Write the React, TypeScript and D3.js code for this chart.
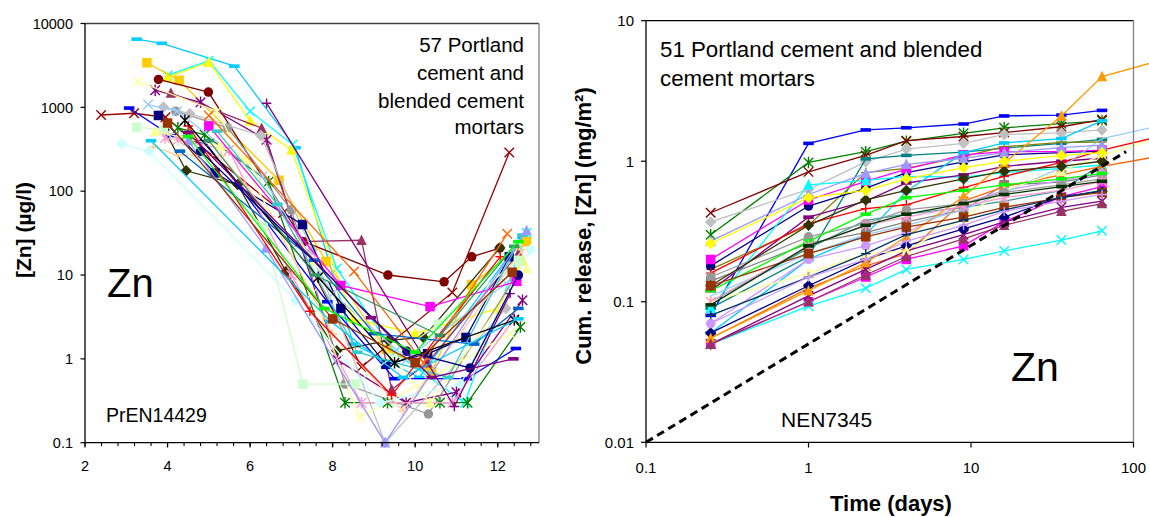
import React from 'react';
import * as d3 from 'd3';

// ---------------- LEFT PANEL DATA (pH vs [Zn] µg/l) ----------------
const leftPH: number[][] = [
  [3.25, 3.86, 5.62, 7.1, 8.5, 10.1, 12.6],
  [4.0, 5.0, 6.0, 7.03, 8.1, 9.5, 11.2, 12.7],
  [4.0, 5.0, 6.0, 7.0, 8.5, 10.0, 12.0, 12.6],
  [3.5, 4.28, 6.7, 7.84, 9.3, 10.4, 11.37, 12.7],
  [3.78, 4.99, 7.3, 9.34, 10.7, 11.37, 12.05],
  [2.39, 3.19, 3.95, 6.8, 8.7, 10.9, 12.28],
  [3.7, 4.8, 6.4, 8.12, 9.78, 11.0, 12.6],
  [4.08, 6.28, 7.2, 8.7, 9.43, 10.3, 12.5],
  [4.2, 5.46, 7.0, 8.3, 10.32, 12.4],
  [3.9, 4.54, 6.26, 7.5, 9.27, 12.2],
  [3.78, 5.15, 7.27, 8.2, 9.29, 10.3, 11.23, 12.28],
  [3.92, 4.45, 5.7, 6.87, 8.1, 9.35, 10.2, 12.05],
  [4.25, 4.9, 6.45, 8.3, 9.33, 10.6, 11.27, 12.55],
  [3.07, 4.08, 4.9, 7.87, 9.5, 11.25, 12.44],
  [3.53, 4.23, 6.3, 8.0, 9.8, 12.2],
  [3.29, 5.2, 7.5, 8.66, 12.3],
  [3.94, 4.25, 5.49, 7.0, 8.7, 10.9, 12.4],
  [3.65, 4.25, 5.3, 6.5, 8.0, 9.7, 12.6],
  [2.89, 3.55, 7.1, 9.15, 11.1, 12.8],
  [3.25, 3.9, 6.32, 7.28, 8.54, 10.56, 12.5],
  [3.7, 5.27, 5.9, 7.5, 10.36, 12.7],
  [5.0, 8.2, 10.36, 12.46],
  [5.2, 6.66, 8.6, 10.8, 12.6],
  [4.5, 6.38, 9.27, 12.7],
  [6.4, 10.95, 12.3],
  [4.5, 7.45, 9.43, 12.06],
  [5.0, 8.52, 10.2, 12.23],
  [4.3, 7.55, 9.0, 11.43, 12.5],
  [4.42, 7.65, 9.5, 12.4],
  [5.0, 7.57, 10.6, 12.4],
  [3.6, 7.95, 9.7, 12.5],
  [4.8, 9.8, 11.33, 12.5],
  [4.5, 8.93, 10.4, 12.38],
  [4.0, 8.0, 10.0, 12.35],
  [4.5, 7.8, 10.0, 12.5],
];
const leftZn: number[][] = [
  [6500, 5800, 3100, 330, 1.5, 0.6, 28],
  [2400, 3600, 900, 360, 12, 1.2, 0.3, 32],
  [2300, 3450, 690, 310, 3, 2, 4, 15],
  [3400, 2100, 135, 14.5, 1.3, 0.7, 7.7, 25],
  [2150, 1520, 25, 10, 8.3, 16.5, 21],
  [810, 850, 760, 55, 0.8, 6.2, 290],
  [1600, 1150, 410, 0.97, 0.3, 0.4, 5],
  [1480, 565, 25, 26, 0.43, 0.9, 18],
  [900, 570, 60, 0.5, 0.22, 9],
  [1010, 840, 460, 20, 0.1, 4],
  [800, 165, 40, 4.0, 0.86, 1.15, 1.8, 16.5],
  [540, 175, 120, 11, 1.25, 1.66, 1.8, 21],
  [570, 470, 130, 0.3, 0.3, 0.3, 0.3, 2.4],
  [980, 460, 390, 4.8, 0.58, 0.58, 1.33],
  [1080, 900, 150, 6, 1.0, 8],
  [2020, 900, 6, 0.2, 2],
  [430, 410, 310, 10, 0.3, 0.3, 3],
  [340, 270, 265, 50, 2, 0.24, 20],
  [365, 300, 5, 0.3, 0.5, 20],
  [580, 540, 38, 0.5, 0.5, 2.6, 15],
  [520, 345, 240, 15, 0.3, 12],
  [600, 7.5, 4.2, 8.4],
  [520, 70, 1.2, 0.6, 30],
  [400, 21, 0.1, 34],
  [1120, 0.27, 6],
  [600, 3.7, 0.37, 16.5],
  [800, 11, 0.9, 31],
  [300, 15, 2, 1.5, 4],
  [700, 9.4, 0.9, 2.9],
  [400, 10, 1.9, 22],
  [400, 2.8, 0.6, 3],
  [300, 1.23, 0.78, 10],
  [500, 3.1, 0.6, 1.0],
  [650, 3, 0.9, 10.8],
  [450, 4, 1.2, 25],
];
const leftColors = [
  '#00CCFF', '#00FFFF', '#FFFF00', '#FFCC00', '#800000', '#990000', '#800080', '#993366',
  '#969696', '#C0C0C0', '#000080', '#333300', '#008000', '#0000FF', '#99CCFF', '#FFFF99',
  '#FF99CC', '#FFCC99', '#CCFFFF', '#CCFFCC', '#FFFF99', '#FF00FF', '#33CCCC', '#9999FF',
  '#800080', '#FF0000', '#FF6600', '#0066CC', '#000000', '#339966', '#00CCFF', '#000080',
  '#800080', '#993300', '#00FF00',
];
const leftMarkers = [
  'dash', 'x', 'triangle', 'square', 'circle', 'x', 'star', 'triangle',
  'circle', 'diamond', 'square', 'diamond', 'star', 'dash', 'x', 'x',
  'star', 'plus', 'diamond', 'square', 'triangle', 'square', 'dash', 'triangle',
  'plus', 'plus', 'x', 'dash', 'star', 'dash', 'dash', 'circle',
  'dash', 'square', 'dash',
];
const leftYTicks = [0.1, 1, 10, 100, 1000, 10000];
const leftXTicks = [2, 4, 6, 8, 10, 12];

// ---------------- RIGHT PANEL DATA (time vs cumulative release mg/m²) ----------------
const rightTimes = [0.25, 1, 2.25, 4, 9, 16, 36, 64];
const rightExtTime = 128;
const rightRelease: number[][] = [
  [0.08, 1.34, 1.67, 1.73, 1.84, 2.1, 2.13, 2.3],
  [0.30, 0.98, 1.17, 1.39, 1.58, 1.73, 1.85, 1.94],
  [0.43, 0.84, 1.10, 1.40, 1.5, 1.6, 1.76, 1.98],
  [0.37, 0.63, 0.99, 1.22, 1.34, 1.55, 1.59, 1.67],
  [0.09, 0.21, 1.04, 1.10, 1.16, 1.24, 1.34, 1.43],
  [0.17, 0.35, 0.83, 0.89, 1.08, 1.27, 1.36, 1.37],
  [0.18, 0.48, 0.64, 0.83, 0.99, 1.11, 1.15, 1.18],
  [0.20, 0.53, 0.72, 0.88, 1.11, 1.17, 1.17, 1.2],
  [0.09, 0.68, 0.73, 0.78, 0.77, 0.83, 0.89, 0.94],
  [0.12, 0.40, 0.52, 0.70, 0.80, 0.92, 1.0, 1.05],
  [0.06, 0.2, 0.3, 0.61, 1.15, 1.35, 1.45, 1.94],
  [0.16, 0.36, 0.46, 0.49, 0.65, 0.78, 0.98, 1.2, 1.45],
  [0.14, 0.26, 0.31, 0.37, 0.45, 0.68, 0.71, 0.80],
  [0.1, 0.24, 0.38, 0.42, 0.47, 0.52, 0.62, 0.95],
  [0.07, 0.2, 0.25, 0.31, 0.50, 0.62, 0.73, 0.82],
  [0.055, 0.125, 0.18, 0.22, 0.52, 0.66, 0.8, 0.92, 1.06],
  [0.05, 0.10, 0.15, 0.2, 0.25, 0.37, 0.56, 0.66],
  [0.05, 0.093, 0.125, 0.17, 0.20, 0.23, 0.275, 0.32],
  [0.05, 0.11, 0.17, 0.23, 0.3, 0.37, 0.47, 0.52],
  [0.06, 0.13, 0.2, 0.25, 0.33, 0.40, 0.56, 0.61],
  [0.055, 0.12, 0.19, 0.29, 0.56, 0.97, 2.1, 4.0, 5.0],
  [0.11, 0.22, 0.3, 0.35, 0.45, 0.6, 0.9, 1.45, 1.73],
  [0.1, 0.16, 0.22, 0.23, 0.4, 0.62, 0.85, 1.1, 1.42],
  [0.15, 0.29, 0.36, 0.45, 0.5, 0.6, 0.68, 0.75],
  [0.12, 0.27, 0.42, 0.55, 0.62, 0.68, 0.75, 0.82],
  [0.13, 0.35, 0.53, 0.62, 0.75, 0.85, 0.92, 1.0],
  [0.1, 0.25, 0.35, 0.40, 0.48, 0.55, 0.62, 0.72],
  [0.27, 0.58, 0.82, 0.95, 1.05, 1.15, 1.25, 1.3],
  [0.26, 0.55, 0.62, 0.75, 0.9, 1.0, 1.1, 1.15],
  [0.05, 0.10, 0.155, 0.21, 0.28, 0.35, 0.44, 0.5],
  [0.13, 0.22, 0.29, 0.34, 0.4, 0.47, 0.55, 0.6],
  [0.095, 0.25, 0.35, 0.42, 0.5, 0.58, 0.66, 0.72],
  [0.08, 0.15, 0.22, 0.3, 0.38, 0.45, 0.55, 0.62],
  [0.07, 0.15, 0.2, 0.27, 0.35, 0.44, 0.52, 0.58],
];
const rightColors = [
  '#0000FF', '#008000', '#800000', '#C0C0C0', '#008080', '#808000', '#000080', '#FF00FF',
  '#00FFFF', '#800080', '#00CCFF', '#FF0000', '#808080', '#339999', '#CC99FF', '#FF6600',
  '#FF00FF', '#00FFFF', '#800080', '#000080', '#FF9900', '#99CCFF', '#FFFF99', '#999999',
  '#00FF00', '#333300', '#FF99CC', '#9999FF', '#FFFF00', '#993366', '#993300', '#003300',
  '#003366', '#CC99FF',
];
const rightMarkers = [
  'dash', 'star', 'x', 'diamond', 'dash', 'plus', 'circle', 'square',
  'triangle', 'dash', 'dash', 'plus', 'square', 'none', 'circle', 'x',
  'square', 'x', 'star', 'diamond', 'triangle', 'none', 'triangle', 'circle',
  'dash', 'diamond', 'star', 'triangle', 'diamond', 'triangle', 'square', 'dash',
  'plus', 'plus',
];
const refLineT = [0.1, 90];
const refLineV = [0.01, 1.17];
const rightYTicks = [0.01, 0.1, 1, 10];
const rightXTicks = [0.1, 1, 10, 100];

// ---------------- SCALES ----------------
const lx = d3.scaleLinear().domain([2, 13]).range([85, 539]);
const ly = d3.scaleLog().domain([0.1, 10000]).range([442.7, 23.5]);
const rx = d3.scaleLog().domain([0.1, 100]).range([646, 1133.5]);
const ry = d3.scaleLog().domain([0.01, 10]).range([442.3, 20.7]);

const FONT = "'Liberation Sans', Arial, Helvetica, sans-serif";

function Marker({ type, x, y, color }: { type: string; x: number; y: number; color: string }) {
  const s = 9.5;
  const h = s / 2;
  switch (type) {
    case 'square':
      return <rect x={x - h} y={y - h} width={s} height={s} fill={color} />;
    case 'diamond':
      return <path d={`M${x},${y - h - 1}L${x + h + 1},${y}L${x},${y + h + 1}L${x - h - 1},${y}Z`} fill={color} />;
    case 'triangle':
      return <path d={`M${x},${y - h - 1}L${x + h + 0.5},${y + h}L${x - h - 0.5},${y + h}Z`} fill={color} />;
    case 'circle':
      return <circle cx={x} cy={y} r={h} fill={color} />;
    case 'x':
      return (
        <path d={`M${x - h},${y - h}L${x + h},${y + h}M${x - h},${y + h}L${x + h},${y - h}`} stroke={color} strokeWidth={1.4} fill="none" />
      );
    case 'star':
      return (
        <path d={`M${x - h},${y - h}L${x + h},${y + h}M${x - h},${y + h}L${x + h},${y - h}M${x},${y - h - 1}L${x},${y + h + 1}`} stroke={color} strokeWidth={1.4} fill="none" />
      );
    case 'plus':
      return (
        <path d={`M${x - h},${y}L${x + h},${y}M${x},${y - h}L${x},${y + h}`} stroke={color} strokeWidth={1.4} fill="none" />
      );
    case 'dash':
      return <rect x={x - h - 0.5} y={y - 1.8} width={s + 1} height={3.6} fill={color} />;
    default:
      return null;
  }
}

export default function App() {
  const leftLine = d3.line<[number, number]>().x(d => lx(d[0])).y(d => ly(d[1]));
  const rightLine = d3.line<[number, number]>().x(d => rx(d[0])).y(d => ry(d[1]));

  const leftMinor = d3.range(0, 28).map(i => 2 + i * 0.4).filter(v => v <= 13.001);

  return (
    <svg width={1149} height={517} style={{ position: 'absolute', left: 0, top: 0, background: '#fff' }} fontFamily={FONT}>
      <rect x={0} y={0} width={1149} height={517} fill="#fff" />

      {/* ===== LEFT PANEL ===== */}
      <g>
        {leftPH.map((ph, i) => {
          const pts = ph.map((p, j) => [p, leftZn[i][j]] as [number, number]);
          return (
            <g key={'l' + i}>
              <path d={leftLine(pts) || ''} fill="none" stroke={leftColors[i]} strokeWidth={1.3} />
              {pts.map((p, j) => (
                <Marker key={j} type={leftMarkers[i]} x={lx(p[0])} y={ly(p[1])} color={leftColors[i]} />
              ))}
            </g>
          );
        })}
        {/* frame */}
        <line x1={85} y1={23.5} x2={539} y2={23.5} stroke="#404040" strokeWidth={1.3} />
        <line x1={539} y1={23.5} x2={539} y2={442.7} stroke="#808080" strokeWidth={1.3} />
        <line x1={85} y1={23.5} x2={85} y2={442.7} stroke="#000" strokeWidth={1.3} />
        <line x1={85} y1={442.7} x2={539} y2={442.7} stroke="#000" strokeWidth={1.3} />
        {leftYTicks.map(t => (
          <g key={'ly' + t}>
            <line x1={80.5} x2={85} y1={ly(t)} y2={ly(t)} stroke="#000" strokeWidth={1.2} />
            <text x={73} y={ly(t)} dy="0.36em" textAnchor="end" fontSize={14.5} fill="#000">{String(t)}</text>
          </g>
        ))}
        {leftMinor.map(t => (
          <line key={'lm' + t} x1={lx(t)} x2={lx(t)} y1={442.7} y2={446} stroke="#000" strokeWidth={1.1} />
        ))}
        {leftXTicks.map(t => (
          <g key={'lx' + t}>
            <line x1={lx(t)} x2={lx(t)} y1={442.7} y2={447.5} stroke="#000" strokeWidth={1.2} />
            <text x={lx(t)} y={470.5} textAnchor="middle" fontSize={14.5} fill="#000">{String(t)}</text>
          </g>
        ))}
        <text transform="translate(30.5,230) rotate(-90)" textAnchor="middle" fontSize={21} fontWeight="bold" fill="#000">[Zn] (µg/l)</text>
        <text x={524} y={51.7} textAnchor="end" fontSize={20.5} fill="#000">57 Portland</text>
        <text x={524} y={80} textAnchor="end" fontSize={20.5} fill="#000">cement and</text>
        <text x={524} y={108.3} textAnchor="end" fontSize={20.5} fill="#000">blended cement</text>
        <text x={524} y={133.5} textAnchor="end" fontSize={20.5} fill="#000">mortars</text>
        <text x={107} y={296.5} fontSize={40} fill="#000">Zn</text>
        <text x={106} y={421.5} fontSize={19.5} fill="#000">PrEN14429</text>
      </g>

      {/* ===== RIGHT PANEL ===== */}
      <g>
        {rightRelease.map((vals, i) => {
          const pts = vals.map((v, j) => [j < rightTimes.length ? rightTimes[j] : rightExtTime, v] as [number, number]);
          const mpts = pts.slice(0, rightTimes.length);
          return (
            <g key={'r' + i}>
              <path d={rightLine(pts) || ''} fill="none" stroke={rightColors[i]} strokeWidth={1.3} />
              {mpts.map((p, j) => (
                <Marker key={j} type={rightMarkers[i]} x={rx(p[0])} y={ry(p[1])} color={rightColors[i]} />
              ))}
            </g>
          );
        })}
        <path
          d={rightLine(refLineT.map((t, i) => [t, refLineV[i]] as [number, number])) || ''}
          fill="none" stroke="#000" strokeWidth={3} strokeDasharray="8,5"
        />
        <line x1={646} y1={20.7} x2={1133.5} y2={20.7} stroke="#000" strokeWidth={1.3} />
        <line x1={1133.5} y1={20.7} x2={1133.5} y2={442.3} stroke="#808080" strokeWidth={1.3} />
        <line x1={646} y1={20.7} x2={646} y2={442.3} stroke="#000" strokeWidth={1.3} />
        <line x1={646} y1={442.3} x2={1133.5} y2={442.3} stroke="#000" strokeWidth={1.3} />
        {rightYTicks.map(t => (
          <g key={'ry' + t}>
            <line x1={641} x2={646} y1={ry(t)} y2={ry(t)} stroke="#000" strokeWidth={1.2} />
            <text x={634} y={ry(t)} dy="0.36em" textAnchor="end" fontSize={15} fill="#000">{String(t)}</text>
          </g>
        ))}
        {rightXTicks.map(t => (
          <g key={'rx' + t}>
            <line x1={rx(t)} x2={rx(t)} y1={442.3} y2={447.5} stroke="#000" strokeWidth={1.2} />
            <text x={rx(t)} y={472.5} textAnchor="middle" fontSize={15} fill="#000">{String(t)}</text>
          </g>
        ))}
        <text transform="translate(590.5,226) rotate(-90)" textAnchor="middle" fontSize={22} fontWeight="bold" fill="#000">Cum. release, [Zn] (mg/m²)</text>
        <text x={891} y={511} textAnchor="middle" fontSize={22} fontWeight="bold" fill="#000">Time (days)</text>
        <text x={660} y={57.3} fontSize={22.3} fill="#000">51 Portland cement and blended</text>
        <text x={660} y={86} fontSize={22.3} fill="#000">cement mortars</text>
        <text x={1011} y={381} fontSize={41} fill="#000">Zn</text>
        <text x={781} y={427.3} fontSize={21} fill="#000">NEN7345</text>
      </g>
    </svg>
  );
}
